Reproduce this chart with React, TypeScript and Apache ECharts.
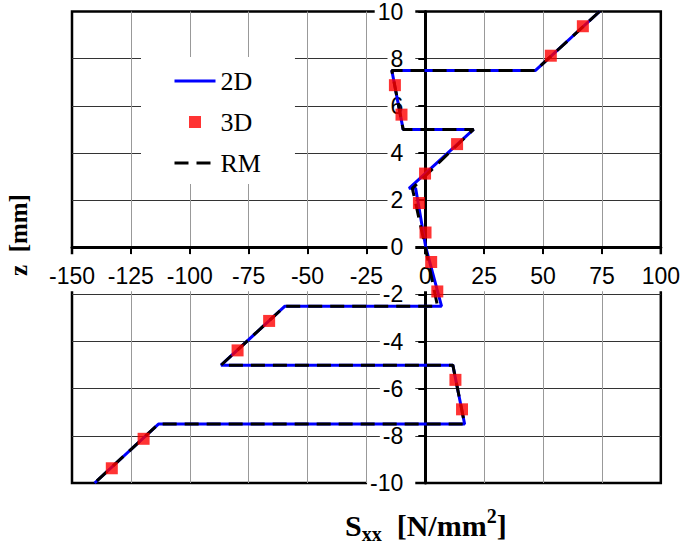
import React, { useEffect, useRef } from 'react';
import * as echarts from 'echarts';

// Axis ranges / ticks
const X_MIN = -150;
const X_MAX = 100;
const X_STEP = 25;
const Y_MIN = -10;
const Y_MAX = 10;
const Y_STEP = 2;

// 2D solution (blue solid): stress S_xx and thickness coordinate z
const s2D = [74, 46.8, -14.2, -9.4, 20.5, -6.9, -4.1, 0.2, 6.9, -59.6, -86.7, 11.7, 16.7, -113.3, -140.4];
const z2D = [10, 7.5, 7.5, 5, 5, 2.5, 2.5, 0, -2.5, -2.5, -5, -5, -7.5, -7.5, -10];

// RM solution (black dashed)
const sRM = [74, 46.8, -14.2, -9.4, 20.5, -5.5, 0, 5.2, -59.6, -86.7, 11.7, 16.7, -113.3, -140.4];
const zRM = [10, 7.5, 7.5, 5, 5, 2.5, 0, -2.5, -2.5, -5, -5, -7.5, -7.5, -10];

// 3D solution (red squares)
const s3D = [66.9, 53.3, -12.9, -10.1, 13.5, -0.1, -2.7, 0.1, 2.5, 5.1, -66.3, -79.7, 12.8, 15.6, -119.6, -133.1];
const z3D = [9.375, 8.125, 6.875, 5.625, 4.375, 3.125, 1.875, 0.625, -0.625, -1.875, -3.125, -4.375, -5.625, -6.875, -8.125, -9.375];

const seriesNames = ['2D', '3D', 'RM'];

const W = 685;
const H = 547;
const GRID = { left: 72, right: 20, top: 9, bottom: 64 };

export default function App() {
  const ref = useRef<HTMLDivElement>(null);

  useEffect(() => {
    if (!ref.current) return;
    const chart = echarts.init(ref.current, null, { renderer: 'svg' });
    const tickFont = 'Liberation Sans';
    const serif = 'Liberation Serif';

    const option: any = {
      animation: false,
      backgroundColor: '#fff',
      grid: {
        ...GRID,
        show: true,
        borderColor: '#000',
        borderWidth: 2.5,
        backgroundColor: 'transparent',
        containLabel: false,
      },
      xAxis: {
        type: 'value',
        min: X_MIN,
        max: X_MAX,
        interval: X_STEP,
        position: 'bottom',
        offset: 0,
        axisLine: { onZero: false, lineStyle: { color: '#000', width: 3 } },
        axisTick: { show: true, inside: false, length: 7, lineStyle: { color: '#000', width: 2 } },
        axisLabel: {
          fontFamily: tickFont,
          fontSize: 23,
          color: '#000',
          margin: 7,
          backgroundColor: '#fff',
          padding: [10, 2, 4, 2],
          showMinLabel: true,
          showMaxLabel: true,
          hideOverlap: false,
        },
        splitLine: { show: true, showMinLine: false, showMaxLine: false, lineStyle: { color: '#999', width: 1 } },
      },
      yAxis: {
        type: 'value',
        min: Y_MIN,
        max: Y_MAX,
        interval: Y_STEP,
        position: 'left',
        offset: 0,
        axisLine: { onZero: false, lineStyle: { color: '#000', width: 3 } },
        axisTick: { show: true, inside: false, length: 7, lineStyle: { color: '#000', width: 2 } },
        axisLabel: {
          fontFamily: tickFont,
          fontSize: 23,
          color: '#000',
          margin: 10,
          backgroundColor: '#fff',
          padding: [0, 12, 0, 3],
          showMinLabel: true,
          showMaxLabel: true,
          hideOverlap: false,
        },
        splitLine: { show: true, showMinLine: false, showMaxLine: false, lineStyle: { color: '#333', width: 1 } },
      },
      legend: {
        orient: 'vertical',
        left: 141,
        top: 57,
        padding: [9, 34, 6, 32],
        itemGap: 11,
        itemWidth: 41,
        itemHeight: 12,
        backgroundColor: '#fff',
        selectedMode: false,
        z: 10,
        lineStyle: { width: 3 },
        textStyle: { fontFamily: serif, fontSize: 26, color: '#000', lineHeight: 30 },
        data: [
          { name: seriesNames[0], itemStyle: { opacity: 0 } },
          { name: seriesNames[1], icon: 'path://M0,0h10v10h-10z' },
          { name: seriesNames[2], itemStyle: { opacity: 0 } },
        ],
      },
      series: [
        {
          name: seriesNames[0],
          type: 'line',
          data: s2D.map((s, i) => [s, z2D[i]]),
          symbol: 'none',
          lineStyle: { color: '#0000ff', width: 3 },
          itemStyle: { color: '#0000ff' },
          z: 2,
        },
        {
          name: seriesNames[2],
          type: 'line',
          data: sRM.map((s, i) => [s, zRM[i]]),
          symbol: 'none',
          lineStyle: { color: '#000', width: 3, type: [14, 8] },
          itemStyle: { color: '#000' },
          z: 3,
        },
        {
          name: seriesNames[1],
          type: 'scatter',
          data: s3D.map((s, i) => [s, z3D[i]]),
          symbol: 'rect',
          symbolSize: 12,
          itemStyle: { color: '#ff0000' },
          z: 4,
        },
      ],
      graphic: [
        {
          type: 'text',
          left: 345,
          top: 506,
          z: 20,
          style: {
            text: '{a|S}{b|xx}{a|  [N/mm}{c|2}{a|]}',
            fill: '#000',
            rich: {
              a: { fontFamily: serif, fontWeight: 'bold', fontSize: 30, lineHeight: 38, verticalAlign: 'middle', fill: '#000' },
              b: { fontFamily: serif, fontWeight: 'bold', fontSize: 20, lineHeight: 18, verticalAlign: 'bottom', fill: '#000' },
              c: { fontFamily: serif, fontWeight: 'bold', fontSize: 20, lineHeight: 26, verticalAlign: 'top', fill: '#000' },
            },
          },
        },
        {
          type: 'text',
          x: 18,
          y: 235,
          rotation: Math.PI / 2,
          z: 20,
          style: {
            text: 'z  [mm]',
            font: 'bold 25px "Liberation Serif"',
            fill: '#000',
            align: 'center',
            verticalAlign: 'middle',
            textAlign: 'center',
            textVerticalAlign: 'middle',
          },
        },
      ],
    };

    chart.setOption(option);

    // Place both axes through the origin (0, 0) using the chart's own scales.
    const origin = chart.convertToPixel({ gridIndex: 0 }, [0, 0]) as number[];
    if (origin && isFinite(origin[0]) && isFinite(origin[1])) {
      const gridBottomY = H - GRID.bottom;
      const gridLeftX = GRID.left;
      chart.setOption({
        xAxis: { offset: -(gridBottomY - origin[1]) },
        yAxis: { offset: -(origin[0] - gridLeftX) },
      });
    }

    return () => chart.dispose();
  }, []);

  return (
    <div
      ref={ref}
      style={{ position: 'absolute', left: 0, top: 0, width: W, height: H }}
    />
  );
}
